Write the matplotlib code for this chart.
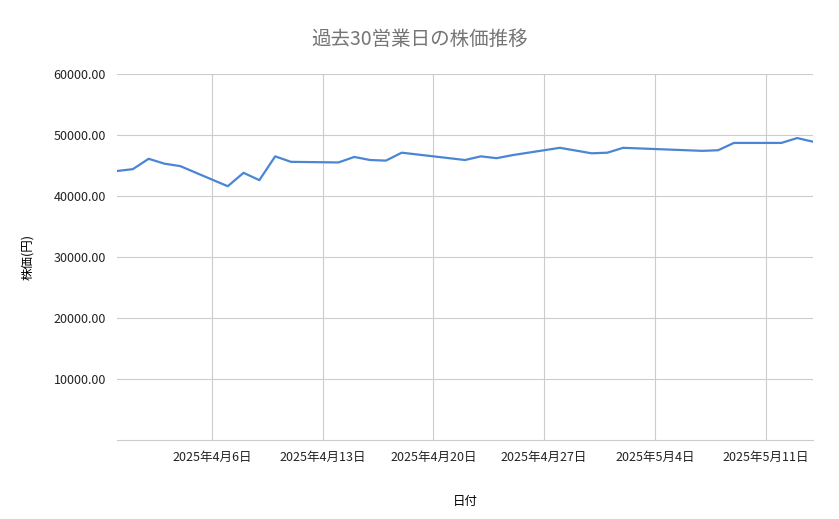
import matplotlib
matplotlib.use("Agg")
import matplotlib.pyplot as plt
import pandas as pd

plt.rcParams['font.family'] = ['Noto Sans CJK JP', 'DejaVu Sans']

dates = ["2025-03-31","2025-04-01","2025-04-02","2025-04-03","2025-04-04",
         "2025-04-07","2025-04-08","2025-04-09","2025-04-10","2025-04-11",
         "2025-04-14","2025-04-15","2025-04-16","2025-04-17","2025-04-18",
         "2025-04-22","2025-04-23","2025-04-24","2025-04-25",
         "2025-04-28","2025-04-30","2025-05-01","2025-05-02",
         "2025-05-07","2025-05-08","2025-05-09",
         "2025-05-12","2025-05-13","2025-05-14"]
prices = [44100,44400,46100,45300,44900,
          41600,43800,42600,46500,45600,
          45500,46400,45900,45800,47100,
          45900,46500,46200,46700,
          47900,47000,47100,47900,
          47400,47500,48700,
          48700,49500,48900]
tick_dates = ["2025-04-06","2025-04-13","2025-04-20","2025-04-27","2025-05-04","2025-05-11"]
yticks = [10000,20000,30000,40000,50000,60000]

x = pd.to_datetime(dates)
fig = plt.figure(figsize=(8.39,5.19), dpi=100)
ax = fig.add_axes([117/839, 1-440/519, (813-117)/839, (440-74)/519])
ax.plot(x, prices, color='#4a86d4', lw=1.6)
ax.set_xlim(pd.Timestamp("2025-03-31"), pd.Timestamp("2025-05-14"))
ax.set_ylim(0, 60000)
ax.set_yticks(yticks)
ax.set_yticklabels([f"{v:.2f}" for v in yticks])
tx = pd.to_datetime(tick_dates)
ax.set_xticks(tx)
ax.set_xticklabels([f"{d.year}年{d.month}月{d.day}日" for d in tx])
ax.grid(True, color='#cccccc', lw=0.8)
ax.set_axisbelow(True)
for s in ['top','right','left']:
    ax.spines[s].set_visible(False)
ax.spines['bottom'].set_color('#cccccc')
ax.tick_params(length=0, labelsize=9, colors='#222222', pad=8)
ax.set_xlabel("日付", fontsize=9, labelpad=22)
ax.set_ylabel("株価(円)", fontsize=9, labelpad=14)
fig.suptitle("過去30営業日の株価推移", y=0.945, fontsize=14, color='#757575')
fig.savefig("out.png", dpi=100)
